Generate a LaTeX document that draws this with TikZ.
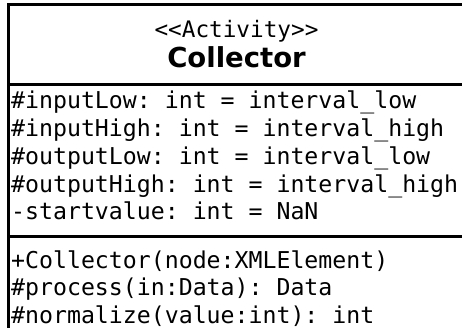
\documentclass[tikz,border=0pt]{standalone}
\usepackage{fontspec}
\setmainfont{DejaVu Sans}
\setmonofont{DejaVu Sans Mono}
\tikzset{
  classframe/.style={draw=black, line width=3pt, fill=white},
  divider/.style={draw=black, line width=3pt},
  member/.style={anchor=base west, inner sep=0pt, font=\ttfamily\fontsize{23.2}{27.7}\selectfont},
  stereo/.style={anchor=base, inner sep=0pt, font=\ttfamily\fontsize{22.7}{27.7}\selectfont},
  classname/.style={anchor=base, inner sep=0pt, font=\bfseries\fontsize{27.5}{33}\selectfont}
}
\begin{document}
\begin{tikzpicture}[x=1pt, y=-1pt]
  \useasboundingbox (0,0) rectangle (462,328);
  \clip (0,0) rectangle (462,328);
  % class frame with its compartments
  \draw[classframe] (8.5,4.5) rectangle (480,345);
  \draw[divider] (8.5,84.5) -- (480,84.5);
  \draw[divider] (8.5,236.5) -- (480,236.5);
  % header
  \node[stereo] (stereotype) at (236.5,38) {<{}<Activity>{}>};
  \node[classname] (name) at (236.5,67.5) {Collector};
  % attributes
  \node[member] (a1) at (11,109) {\#inputLow: int = interval\_low};
  \node[member] (a2) at (11,136.7) {\#inputHigh: int = interval\_high};
  \node[member] (a3) at (11,164.4) {\#outputLow: int = interval\_low};
  \node[member] (a4) at (11,192.1) {\#outputHigh: int = interval\_high};
  \node[member] (a5) at (11,219.8) {-startvalue: int = NaN};
  % operations
  \node[member] (m1) at (11,268) {+Collector(node:XMLElement)};
  \node[member] (m2) at (11,295.7) {\#process(in:Data): Data};
  \node[member] (m3) at (11,323.4) {\#normalize(value:int): int};
\end{tikzpicture}
\end{document}
